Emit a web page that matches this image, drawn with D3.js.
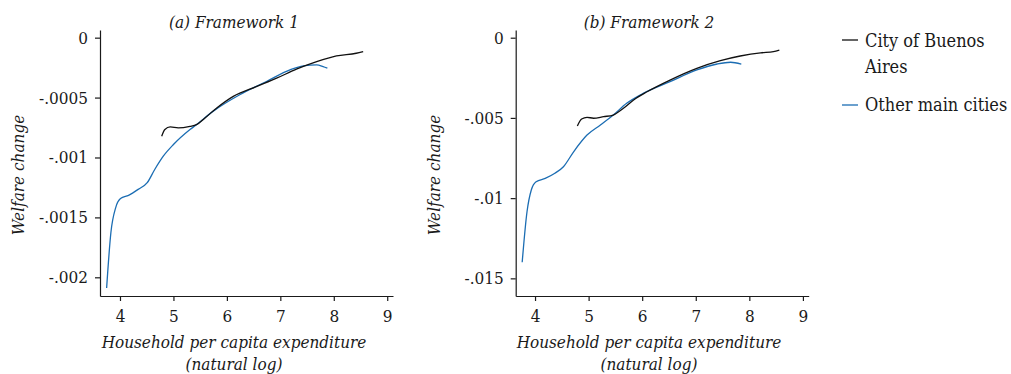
<!DOCTYPE html>
<html>
<head>
<meta charset="utf-8">
<script src="https://cdn.jsdelivr.net/npm/d3@7"></script>
<style>
  body { margin: 0; background: #fff; }
  svg text { font-family: "DejaVu Serif Condensed", "DejaVu Serif", serif; fill: #1a1a1a; }
  .axis path, .axis line { stroke: #1a1a1a; stroke-width: 1.2; }
  .axis text { font-size: 17px; }
  .lab { font-style: italic; font-size: 17px; }
</style>
</head>
<body>
<div class="diagram"></div>
<script>
var width = 1011, height = 374;

// x ticks (natural log of per capita expenditure)
var xTicks = [4, 5, 6, 7, 8, 9];

// Framework 1
var yTicksA = [0, -0.0005, -0.001, -0.0015, -0.002];
var yLabelsA = ["0", "-.0005", "-.001", "-.0015", "-.002"];
var buenosA_x = [4.78, 4.84, 4.94, 5.09, 5.31, 5.43, 5.59, 5.81, 6.12, 6.56, 6.93, 7.30, 7.68, 8.05, 8.42, 8.55];
var buenosA_y = [-0.000823, -0.000767, -0.000745, -0.000753, -0.000740, -0.000726, -0.000670, -0.000587, -0.000490, -0.000407, -0.000338, -0.000263, -0.000200, -0.000152, -0.000130, -0.000116];
var citiesA_x = [3.75, 3.83, 3.92, 4.01, 4.16, 4.34, 4.51, 4.65, 4.81, 5.00, 5.31, 5.43, 5.74, 6.24, 6.74, 7.18, 7.43, 7.68, 7.80, 7.88];
var citiesA_y = [-0.002089, -0.001626, -0.001418, -0.001343, -0.001316, -0.001266, -0.001210, -0.001100, -0.000989, -0.000892, -0.000767, -0.000726, -0.000615, -0.000476, -0.000366, -0.000269, -0.000235, -0.000227, -0.000241, -0.000254];

// Framework 2
var yTicksB = [0, -0.005, -0.01, -0.015];
var yLabelsB = ["0", "-.005", "-.01", "-.015"];
var buenosB_x = [4.79, 4.87, 4.97, 5.09, 5.28, 5.46, 5.65, 5.84, 6.09, 6.52, 7.02, 7.46, 7.83, 8.21, 8.45, 8.56];
var buenosB_y = [-0.00550, -0.00507, -0.00496, -0.00502, -0.00492, -0.00482, -0.00440, -0.00388, -0.00337, -0.00264, -0.00191, -0.00143, -0.00114, -0.00094, -0.00087, -0.00077];
var citiesB_x = [3.76, 3.85, 3.93, 4.02, 4.19, 4.37, 4.53, 4.72, 4.97, 5.22, 5.46, 5.71, 6.02, 6.52, 7.02, 7.40, 7.65, 7.85];
var citiesB_y = [-0.01400, -0.01085, -0.00949, -0.00898, -0.00877, -0.00845, -0.00804, -0.00711, -0.00607, -0.00544, -0.00482, -0.00409, -0.00347, -0.00274, -0.00201, -0.00164, -0.00153, -0.00164];

var seriesNames = ["City of Buenos", "Aires", "Other main cities"];
var colors = { buenos: "#111111", cities: "#1b6db3" };

var svg = d3.select('.diagram')
	.append('svg')
	.attr('width', width)
	.attr('height', height);

var panels = [
	{ left: 100, title: "(a) Framework 1", yDom: [0.000064, -0.002156], yTicks: yTicksA, yLabels: yLabelsA,
	  buenos: d3.zip(buenosA_x, buenosA_y), cities: d3.zip(citiesA_x, citiesA_y), center: 234 },
	{ left: 515.7, title: "(b) Framework 2", yDom: [0.00048, -0.0161], yTicks: yTicksB, yLabels: yLabelsB,
	  buenos: d3.zip(buenosB_x, buenosB_y), cities: d3.zip(citiesB_x, citiesB_y), center: 649 }
];

panels.forEach(function(p) {
	var x = d3.scaleLinear().domain([p.left === 100 ? 3.626 : 3.639, 9.108]).range([p.left, p.left + 293]);
	var y = d3.scaleLinear().domain(p.yDom).range([30, 296]);
	var g = svg.append('g');

	g.append('g')
		.attr('class', 'axis')
		.attr('transform', 'translate(0,296)')
		.call(d3.axisBottom(x).tickValues(xTicks).tickSize(5).tickSizeOuter(0).tickPadding(9).tickFormat(d3.format('d')));

	g.append('g')
		.attr('class', 'axis')
		.attr('transform', 'translate(' + p.left + ',0)')
		.call(d3.axisLeft(y).tickValues(p.yTicks).tickSize(5).tickSizeOuter(0).tickPadding(7)
			.tickFormat(function(d, i) { return p.yLabels[i]; }));

	g.selectAll('.axis text').attr('font-size', 17);

	var line = d3.line()
		.x(function(d) { return x(d[0]); })
		.y(function(d) { return y(d[1]); })
		.curve(d3.curveMonotoneX);

	g.append('path').attr('d', line(p.cities)).attr('fill', 'none')
		.attr('stroke', colors.cities).attr('stroke-width', 1.3);
	g.append('path').attr('d', line(p.buenos)).attr('fill', 'none')
		.attr('stroke', colors.buenos).attr('stroke-width', 1.3);

	g.append('text').attr('class', 'lab').attr('x', p.center).attr('y', 28)
		.attr('text-anchor', 'middle').attr('font-size', 16).text(p.title);
	g.append('text').attr('class', 'lab').attr('x', p.center).attr('y', 348)
		.attr('text-anchor', 'middle').text("Household per capita expenditure");
	g.append('text').attr('class', 'lab').attr('x', p.center).attr('y', 370)
		.attr('text-anchor', 'middle').text("(natural log)");
	g.append('text').attr('class', 'lab')
		.attr('transform', 'translate(' + (p.left - 76) + ',175) rotate(-90)')
		.attr('text-anchor', 'middle').text("Welfare change");
});

// legend
var legend = svg.append('g');
legend.append('line').attr('x1', 842).attr('x2', 858).attr('y1', 40).attr('y2', 40)
	.attr('stroke', colors.buenos).attr('stroke-width', 1.3);
legend.append('text').attr('x', 865).attr('y', 47).attr('font-size', 18).text(seriesNames[0]);
legend.append('text').attr('x', 865).attr('y', 73).attr('font-size', 18).text(seriesNames[1]);
legend.append('line').attr('x1', 842).attr('x2', 858).attr('y1', 105).attr('y2', 105)
	.attr('stroke', colors.cities).attr('stroke-width', 1.3);
legend.append('text').attr('x', 865).attr('y', 111).attr('font-size', 18).text(seriesNames[2]);
</script>
</body>
</html>
